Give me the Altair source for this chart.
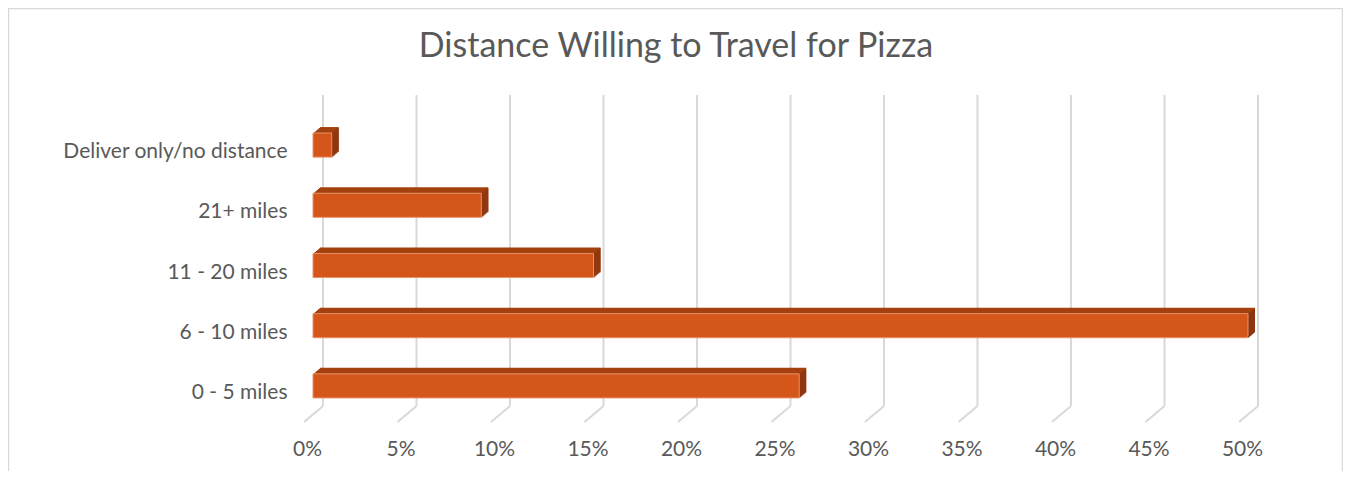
import altair as alt
import pandas as pd

categories = ["Deliver only/no distance", "21+ miles", "11 - 20 miles", "6 - 10 miles", "0 - 5 miles"]
values = [1, 9, 15, 50, 26]
ticks = [0, 5, 10, 15, 20, 25, 30, 35, 40, 45, 50]
title_text = "Distance Willing to Travel for Pizza"

FRONT = "#D4561A"
TOP = "#A4410F"
SIDE = "#8B3511"
GRID = "#D9D9D9"
TEXT = "#595959"
FONT = "Lato"

df = pd.DataFrame({"cat": categories, "value": values})
tick_df = pd.DataFrame({"tick": ticks})
title_df = pd.DataFrame({"t": [title_text]})

W, H = 935, 301
DEPTH_X, DEPTH_Y, STEPS = 7, 6, 7

xscale = alt.Scale(domain=[0, 50], nice=False, zero=True)
yscale = alt.Scale(domain=categories, paddingInner=0.6, paddingOuter=0.3)

x_axis = alt.Axis(values=ticks, labelExpr="datum.value + '%'", domain=False, ticks=False,
                  tickSize=0, grid=False, labelFontSize=21, labelColor=TEXT, labelFont=FONT,
                  labelPadding=33, labelBaseline="middle", labelOffset=-6, labelFlush=False,
                  title=None)
y_axis = alt.Axis(domain=False, ticks=False, tickSize=0, grid=False, labelFontSize=21,
                  labelColor=TEXT, labelFont=FONT, labelPadding=26, labelBaseline="middle",
                  labelOffset=7, labelLimit=400, title=None)

X = lambda f: alt.X(f, scale=xscale, axis=x_axis)
Y = lambda f: alt.Y(f, scale=yscale, axis=y_axis)

tick_base = alt.Chart(tick_df)
grid_v = tick_base.mark_rule(color=GRID, strokeWidth=2, xOffset=10).encode(
    x=X("tick:Q"), y=alt.value(-20), y2=alt.value(291))
grid_d = tick_base.mark_rule(color=GRID, strokeWidth=2, xOffset=10, x2Offset=-9).encode(
    x=X("tick:Q"), x2="tick:Q", y=alt.value(291), y2=alt.value(307))

frame = alt.Chart(title_df).mark_rect(fill="transparent", stroke=GRID, strokeWidth=1.5).encode(
    x=alt.value(-304.5), x2=alt.value(1029.5), y=alt.value(-106.5), y2=alt.value(360))
title = alt.Chart(title_df).mark_text(font=FONT, fontSize=34, color=TEXT, align="center",
                                      baseline="alphabetic").encode(
    text="t:N", x=alt.value(363), y=alt.value(-58))

base = alt.Chart(df)
layers = [frame, title, grid_v, grid_d]
for i in range(STEPS, 0, -1):
    dx = DEPTH_X * i / STEPS
    dy = -DEPTH_Y * i / STEPS
    layers.append(base.mark_bar(color=TOP, xOffset=dx, x2Offset=dx, yOffset=dy, y2Offset=dy).encode(
        x=X("value:Q"), y=Y("cat:N")))
for i in range(STEPS):
    dx = DEPTH_X * i / STEPS
    dy = -DEPTH_Y * i / STEPS
    layers.append(base.mark_bar(color=SIDE, xOffset=dx, x2Offset=dx + DEPTH_X / STEPS,
                                yOffset=dy, y2Offset=dy).encode(
        x=X("value:Q"), x2="value:Q", y=Y("cat:N")))
front = base.mark_bar(color=FRONT, stroke="#E9926A", strokeWidth=1).encode(
    x=X("value:Q"), y=Y("cat:N"))
layers.append(front)

chart = alt.layer(*layers).properties(
    width=W, height=H,
    background="white",
    autosize=alt.AutoSizeParams(type="none"),
    padding={"left": 305, "top": 107, "right": 95, "bottom": 55},
).configure_view(strokeWidth=0)

chart.save("out.html", embed_options={"renderer": "svg", "actions": False})
